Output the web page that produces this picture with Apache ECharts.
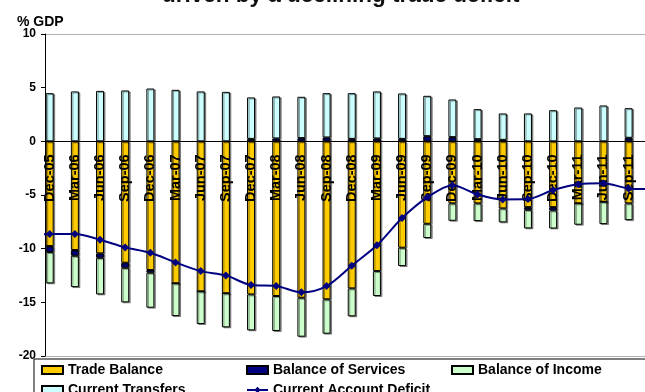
<!DOCTYPE html>
<html>
<head>
<meta charset="utf-8">
<script src="https://cdn.jsdelivr.net/npm/echarts@6/dist/echarts.min.js"></script>
<style>
  html, body { margin: 0; padding: 0; background: #fff; }
  #chart { width: 645px; height: 392px; }
</style>
</head>
<body>
<div id="chart"></div>
<script>
// Quarterly current account components, % of GDP
const categories = ['Dec-05', 'Mar-06', 'Jun-06', 'Sep-06', 'Dec-06', 'Mar-07', 'Jun-07', 'Sep-07',
  'Dec-07', 'Mar-08', 'Jun-08', 'Sep-08', 'Dec-08', 'Mar-09', 'Jun-09', 'Sep-09',
  'Dec-09', 'Mar-10', 'Jun-10', 'Sep-10', 'Dec-10', 'Mar-11', 'Jun-11', 'Sep-11'];

const tradeBalance = [-9.76, -10.13, -10.44, -11.31, -11.99, -13.23, -13.98, -14.16,
  -14.26, -14.41, -14.57, -14.72, -13.70, -12.09, -9.91, -7.68,
  -5.78, -5.78, -6.25, -6.13, -6.13, -5.78, -5.63, -5.78];

const servicesBalance = [-0.56, -0.53, -0.41, -0.47, -0.25, 0, 0, 0,
  0.23, 0.27, 0.30, 0.36, 0.23, 0.27, 0.23, 0.48,
  0.39, 0.20, 0.14, -0.25, -0.31, 0, 0, 0.33];

const incomeBalance = [-2.91, -2.92, -3.41, -3.22, -3.26, -3.05, -3.04, -3.17,
  -3.35, -3.26, -3.63, -3.20, -2.60, -2.32, -1.71, -1.33,
  -1.62, -1.65, -1.30, -1.73, -1.68, -1.99, -2.08, -1.56];

const currentTransfers = [4.49, 4.65, 4.70, 4.74, 4.92, 4.80, 4.65, 4.61,
  3.86, 3.91, 3.85, 4.13, 4.26, 4.38, 4.23, 3.76,
  3.51, 2.80, 2.46, 2.60, 2.90, 3.15, 3.34, 2.76];

// Current account series runs one quarter either side of the bars (Sep-05 .. Dec-11)
const currentAccount = [-8.75, -8.64, -8.64, -9.17, -9.88, -10.38, -11.28, -12.09, -12.49,
  -13.39, -13.48, -14.07, -13.48, -11.59, -9.69, -7.15, -5.22,
  -4.08, -4.95, -5.41, -5.38, -4.54, -3.99, -3.90, -4.39, -4.45];

const Y_MIN = -20, Y_MAX = 10, Y_STEP = 5;

const FONT = '"Liberation Sans", Arial, Helvetica, sans-serif';

// Layout (px)
const W = 645, H = 392;
const PLOT_TOP = 34, PLOT_BOTTOM = 36;
const BAND = 25.17;          // width of one quarter
const FIRST_CENTER = 49.7;   // centre of the first quarter
const FRAME_LEFT = 45;       // position of the value axis
const barGridLeft = FIRST_CENTER - BAND / 2;
const barGridRight = W - (barGridLeft + BAND * categories.length);
const lineXMin = -(FIRST_CENTER - FRAME_LEFT) / BAND;
const lineXMax = lineXMin + (W - FRAME_LEFT) / BAND;
const plotH = H - PLOT_TOP - PLOT_BOTTOM;
const zeroY = PLOT_TOP + plotH * Y_MAX / (Y_MAX - Y_MIN);
const linePairs = currentAccount.map((v, i) => [i - 1, v]);

function barSeries(name, values, color) {
  return {
    name,
    type: 'bar',
    stack: 'ca',
    xAxisIndex: 1,
    yAxisIndex: 1,
    data: values,
    barWidth: 8,
    z: 2,
    itemStyle: {
      color,
      borderColor: '#000',
      borderWidth: 1,
      shadowColor: 'rgba(0,0,0,0.4)',
      shadowOffsetX: 1.5,
      shadowOffsetY: 1
    },
    emphasis: { disabled: true }
  };
}

const chart = echarts.init(document.getElementById('chart'), null, { renderer: 'canvas' });

chart.setOption({
  animation: false,
  textStyle: { fontFamily: FONT },
  title: [
    {
      text: 'driven by a declining trade deficit',
      left: 162,
      top: -16,
      padding: 0,
      textStyle: { fontFamily: FONT, fontSize: 22.5, fontWeight: 'bold', color: '#111' }
    },
    {
      text: '% GDP',
      left: 17,
      top: 15,
      padding: 0,
      textStyle: { fontFamily: FONT, fontSize: 14, fontWeight: 'bold', color: '#000' }
    }
  ],
  legend: {
    data: [
      { name: 'Trade Balance', icon: 'rect' },
      { name: 'Balance of Services', icon: 'rect' },
      { name: 'Balance of Income', icon: 'rect' },
      { name: 'Current Transfers', icon: 'rect' },
      { name: 'Current Account Deficit' }
    ],
    left: 34,
    top: 359,
    width: 640,
    orient: 'horizontal',
    padding: [4, 6, 8, 7],
    itemWidth: 21,
    itemHeight: 8,
    itemGap: 6,
    backgroundColor: '#fff',
    borderColor: '#000',
    borderWidth: 1,
    borderRadius: 0,
    selectedMode: false,
    formatter: name => '{t|' + name + '}',
    textStyle: {
      fontFamily: FONT, fontSize: 14, fontWeight: 'bold', color: '#000',
      rich: { t: { width: 172, lineHeight: 16, fontFamily: FONT, fontSize: 14, fontWeight: 'bold', color: '#000' } }
    }
  },
  grid: [
    // frame, value axis and the current account line
    { left: FRAME_LEFT, right: 0, top: PLOT_TOP, bottom: PLOT_BOTTOM, containLabel: false, outerBoundsMode: 'none' },
    // stacked columns
    { left: barGridLeft, right: barGridRight, top: PLOT_TOP, bottom: PLOT_BOTTOM, containLabel: false, outerBoundsMode: 'none' },
    // quarter labels, hanging just below the zero line
    { left: barGridLeft, right: barGridRight, top: PLOT_TOP, bottom: H - zeroY, containLabel: false, outerBoundsMode: 'none' }
  ],
  xAxis: [
    { type: 'value', gridIndex: 0, min: lineXMin, max: lineXMax, show: false },
    { type: 'category', gridIndex: 1, data: categories, boundaryGap: true, show: false },
    {
      type: 'category',
      gridIndex: 2,
      data: categories,
      boundaryGap: true,
      position: 'bottom',
      z: 3,
      axisLine: { show: false },
      axisTick: { show: false },
      splitLine: { show: false },
      axisLabel: {
        interval: 0,
        rotate: 90,
        margin: 13,
        fontFamily: FONT,
        fontSize: 14.5,
        fontWeight: 'bold',
        color: '#000'
      }
    }
  ],
  yAxis: [
    {
      type: 'value',
      gridIndex: 0,
      min: Y_MIN,
      max: Y_MAX,
      interval: Y_STEP,
      z: 1,
      axisLine: { show: true, onZero: false, lineStyle: { color: '#000', width: 1 } },
      axisTick: { show: true, length: 4, lineStyle: { color: '#000' } },
      axisLabel: { color: '#000', fontFamily: FONT, fontSize: 12, fontWeight: 'bold', margin: 9 },
      splitLine: {
        show: true,
        lineStyle: {
          color: ['#b0b0b0', 'transparent', 'transparent', 'transparent', '#000', 'transparent', '#b0b0b0'],
          width: 1.2
        }
      }
    },
    { type: 'value', gridIndex: 1, min: Y_MIN, max: Y_MAX, interval: Y_STEP, show: false },
    { type: 'value', gridIndex: 2, min: 0, max: 1, show: false }
  ],
  series: [
    barSeries('Trade Balance', tradeBalance, '#FFCC00'),
    barSeries('Balance of Services', servicesBalance, '#000080'),
    barSeries('Balance of Income', incomeBalance, '#CCFFCC'),
    barSeries('Current Transfers', currentTransfers, '#CCFFFF'),
    {
      name: 'Current Account Deficit',
      type: 'line',
      xAxisIndex: 0,
      yAxisIndex: 0,
      data: linePairs,
      smooth: 0.3,
      symbol: 'diamond',
      symbolSize: 8,
      clip: true,
      z: 4,
      lineStyle: { color: '#000080', width: 2 },
      itemStyle: { color: '#000080' },
      emphasis: { disabled: true }
    }
  ]
});
</script>
</body>
</html>
